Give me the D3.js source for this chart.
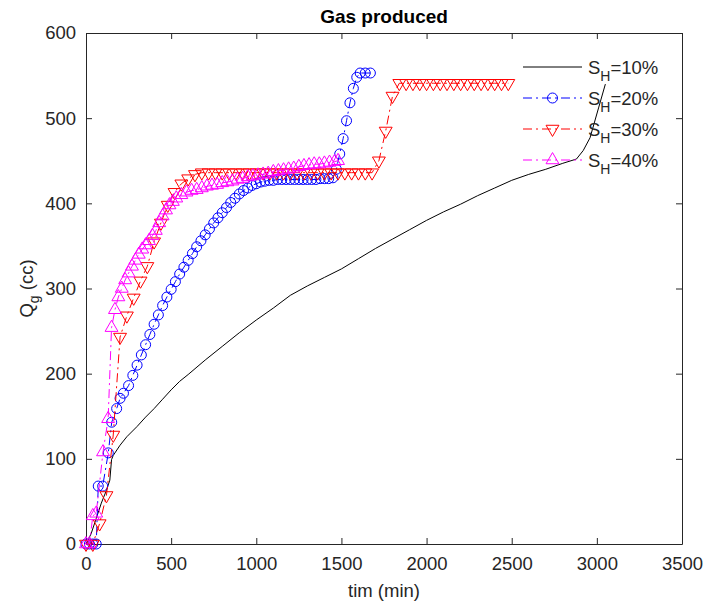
<!DOCTYPE html>
<html>
<head>
<meta charset="utf-8">
<script src="https://cdn.jsdelivr.net/npm/d3@7"></script>
<style>
  html, body { margin: 0; padding: 0; background: #fff; }
  svg { display: block; font-family: "Liberation Sans", Arial, Helvetica, sans-serif; }
</style>
</head>
<body>
<svg id="chart" width="706" height="605"></svg>
<script>
// gas produced vs time, four hydrate saturations
var xTicks = [0, 500, 1000, 1500, 2000, 2500, 3000, 3500];
var yTicks = [0, 100, 200, 300, 400, 500, 600];

var sh10T = [0, 30, 60, 90, 120, 140, 150, 160, 200, 240, 300, 350, 400, 450, 500, 550, 600, 700, 800, 900, 1000, 1100, 1200, 1300, 1400, 1500, 1600, 1700, 1800, 1900, 2000, 2100, 2200, 2300, 2400, 2500, 2600, 2700, 2800, 2880, 2920, 2960, 3010, 3050];
var sh10Q = [0, 12, 30, 48, 63, 75, 99, 104, 116, 126, 138, 149, 159, 170, 181, 191, 199, 216, 232, 248, 263, 277, 292, 303, 313, 323, 335, 347, 358, 369, 380, 390, 399, 409, 418, 427, 434, 440, 447, 452, 462, 477, 512, 540];

var sh20T = [0, 20, 40, 60, 72, 98, 131, 151, 180, 200, 220, 250, 275, 300, 325, 350, 375, 400, 425, 450, 475, 500, 525, 550, 575, 600, 625, 650, 675, 700, 725, 750, 775, 800, 825, 850, 875, 900, 925, 950, 975, 1000, 1025, 1050, 1075, 1100, 1125, 1150, 1175, 1200, 1225, 1250, 1275, 1300, 1325, 1350, 1375, 1400, 1425, 1450, 1470, 1490, 1510, 1530, 1550, 1570, 1590, 1610, 1640, 1670];
var sh20Q = [0, 0, 0, 0, 68, 68, 107, 143, 159, 171, 177, 186, 198, 210, 222, 234, 246, 258, 269, 280, 290, 299, 308, 317, 325, 333, 341, 349, 356, 363, 370, 377, 383, 389, 395, 401, 406, 411, 415, 418, 421, 423, 425, 426, 427, 427, 428, 428, 428, 428, 428, 428, 428, 428, 428, 428, 429, 429, 429, 430, 440, 458, 476, 497, 518, 535, 548, 553, 553, 553];

var sh30T = [0, 40, 80, 120, 160, 200, 240, 280, 320, 360, 400, 440, 480, 520, 560, 600, 640, 680, 720, 760, 800, 840, 880, 920, 960, 1000, 1040, 1080, 1120, 1160, 1200, 1240, 1280, 1320, 1360, 1400, 1440, 1480, 1520, 1560, 1600, 1640, 1680, 1720, 1760, 1800, 1840, 1880, 1920, 1960, 2000, 2040, 2080, 2120, 2160, 2200, 2240, 2280, 2320, 2360, 2400, 2440, 2480];
var sh30Q = [0, 0, 24, 57, 128, 243, 268, 289, 309, 326, 355, 377, 398, 413, 423, 429, 434, 436, 436, 436, 436, 436, 436, 436, 436, 436, 436, 436, 436, 436, 436, 436, 436, 436, 436, 436, 436, 436, 436, 436, 436, 436, 436, 450, 485, 526, 541, 541, 541, 541, 541, 541, 541, 541, 541, 541, 541, 541, 541, 541, 541, 541, 541];

var sh40T = [0, 20, 40, 60, 100, 130, 150, 170, 190, 210, 230, 250, 270, 290, 310, 330, 350, 370, 390, 410, 430, 450, 470, 490, 510, 530, 560, 590, 620, 650, 680, 710, 740, 770, 800, 830, 860, 890, 920, 950, 980, 1010, 1040, 1070, 1100, 1130, 1160, 1190, 1220, 1250, 1280, 1310, 1340, 1370, 1400, 1430, 1460, 1480];
var sh40Q = [0, 0, 33, 36, 108, 147, 254, 275, 290, 300, 310, 318, 326, 333, 340, 346, 351, 356, 362, 368, 377, 385, 392, 398, 402, 406, 410, 413, 415, 416, 418, 420, 421, 422, 424, 425, 426, 428, 429, 431, 432, 433, 434, 435, 437, 438, 439, 440, 441, 443, 444, 445, 446, 446, 447, 448, 449, 450];

var seriesNames = ["S_H=10%", "S_H=20%", "S_H=30%", "S_H=40%"];

var W = 706, H = 605;
var margin = { top: 33, right: 24, bottom: 61, left: 86 };

var svg = d3.select("#chart");
svg.append("rect").attr("width", W).attr("height", H).attr("fill", "#fff");

var x = d3.scaleLinear().domain([0, 3500]).range([margin.left, W - margin.right]);
var y = d3.scaleLinear().domain([0, 600]).range([H - margin.bottom, margin.top]);

var axisColor = "#262626";
var fontSize = 18.5;

// box with inward ticks on all four sides
function styleAxis(g) {
	g.select(".domain").attr("stroke", axisColor).attr("stroke-width", 1);
	g.selectAll(".tick line").attr("stroke", axisColor).attr("stroke-width", 1);
	g.selectAll(".tick text").attr("fill", axisColor).attr("font-size", fontSize)
		.attr("font-family", "Liberation Sans, Arial, sans-serif");
}

svg.append("g")
	.attr("transform", "translate(0," + y(0) + ")")
	.call(d3.axisBottom(x).tickValues(xTicks).tickFormat(d3.format("d")).tickSizeInner(-6).tickSizeOuter(0).tickPadding(13))
	.call(styleAxis);

svg.append("g")
	.attr("transform", "translate(0," + y(600) + ")")
	.call(d3.axisTop(x).tickValues(xTicks).tickFormat("").tickSizeInner(-6).tickSizeOuter(0))
	.call(styleAxis);

svg.append("g")
	.attr("transform", "translate(" + x(0) + ",0)")
	.call(d3.axisLeft(y).tickValues(yTicks).tickFormat(d3.format("d")).tickSizeInner(-6).tickSizeOuter(0).tickPadding(10))
	.call(styleAxis);

svg.append("g")
	.attr("transform", "translate(" + x(3500) + ",0)")
	.call(d3.axisRight(y).tickValues(yTicks).tickFormat("").tickSizeInner(-6).tickSizeOuter(0))
	.call(styleAxis);

// data
function pairs(t, q) {
	return t.map(function (d, i) { return [d, q[i]]; });
}

var line = d3.line().x(function (d) { return x(d[0]); }).y(function (d) { return y(d[1]); });
var dashDot = "9,4,2,4";

var series = [
	{ data: pairs(sh10T, sh10Q), color: "#000000", dash: null, marker: null },
	{ data: pairs(sh20T, sh20Q), color: "#0000ff", dash: dashDot, marker: "circle" },
	{ data: pairs(sh30T, sh30Q), color: "#ff0000", dash: dashDot, marker: "down" },
	{ data: pairs(sh40T, sh40Q), color: "#ff00ff", dash: dashDot, marker: "up" }
];

var triPath = d3.symbol().type(d3.symbolTriangle).size(72)();

function drawMarker(g, kind, color) {
	if (kind === "circle") {
		g.append("circle").attr("r", 5).attr("fill", "none").attr("stroke", color).attr("stroke-width", 1);
	} else if (kind === "down") {
		g.append("path").attr("d", triPath).attr("transform", "rotate(180)")
			.attr("fill", "none").attr("stroke", color).attr("stroke-width", 1);
	} else if (kind === "up") {
		g.append("path").attr("d", triPath)
			.attr("fill", "none").attr("stroke", color).attr("stroke-width", 1);
	}
}

var plot = svg.append("g");

series.forEach(function (s) {
	plot.append("path")
		.datum(s.data)
		.attr("d", line)
		.attr("fill", "none")
		.attr("stroke", s.color)
		.attr("stroke-width", 1)
		.attr("stroke-dasharray", s.dash);
	if (s.marker) {
		plot.append("g").selectAll("g")
			.data(s.data)
			.enter().append("g")
			.attr("transform", function (d) { return "translate(" + x(d[0]) + "," + y(d[1]) + ")"; })
			.each(function () { drawMarker(d3.select(this), s.marker, s.color); });
	}
});

// legend (no box)
var legend = svg.append("g");
series.forEach(function (s, i) {
	var ly = 67 + i * 31;
	var row = legend.append("g").attr("transform", "translate(0," + ly + ")");
	row.append("line").attr("x1", 523).attr("x2", 582).attr("y1", 0).attr("y2", 0)
		.attr("stroke", s.color).attr("stroke-width", 1).attr("stroke-dasharray", s.dash);
	if (s.marker) {
		drawMarker(row.append("g").attr("transform", "translate(552.5,0)"), s.marker, s.color);
	}
	var parts = seriesNames[i].split("_");
	var txt = row.append("text").attr("x", 588).attr("y", 6.5)
		.attr("font-size", fontSize).attr("fill", axisColor);
	txt.append("tspan").text(parts[0]);
	txt.append("tspan").attr("font-size", 14).attr("dy", 7).text(parts[1].slice(0, 1));
	txt.append("tspan").attr("dy", -7).text(parts[1].slice(1));
});

// title and axis labels
svg.append("text").attr("x", (x(0) + x(3500)) / 2).attr("y", 23)
	.attr("text-anchor", "middle").attr("font-weight", "bold").attr("font-size", 19)
	.attr("fill", "#000").text("Gas produced");

svg.append("text").attr("x", (x(0) + x(3500)) / 2).attr("y", 597)
	.attr("text-anchor", "middle").attr("font-size", fontSize).attr("fill", axisColor)
	.text("tim (min)");

var yl = svg.append("text")
	.attr("transform", "translate(33," + ((y(0) + y(600)) / 2) + ") rotate(-90)")
	.attr("text-anchor", "middle").attr("font-size", fontSize).attr("fill", axisColor);
yl.append("tspan").text("Q");
yl.append("tspan").attr("font-size", 14).attr("dy", 6).text("g");
yl.append("tspan").attr("dy", -6).text(" (cc)");
</script>
</body>
</html>
